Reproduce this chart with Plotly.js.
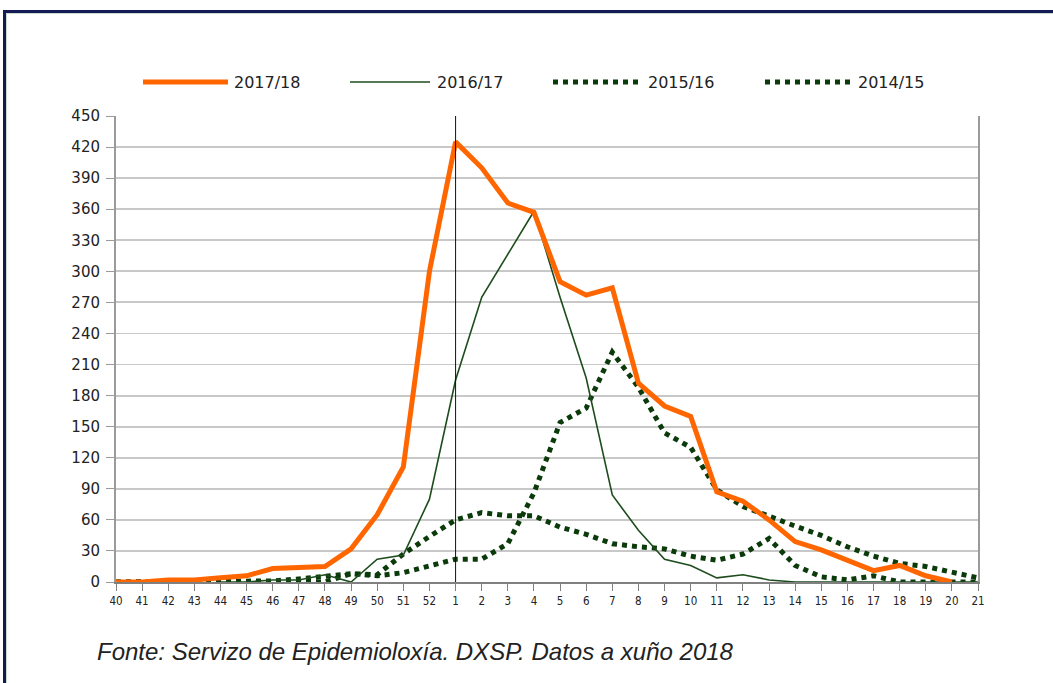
<!DOCTYPE html>
<html>
<head>
<meta charset="utf-8">
<script src="https://cdn.plot.ly/plotly-3.0.1.min.js"></script>
<style>
  html, body { margin: 0; padding: 0; background: #ffffff; }
  #chart { position: absolute; left: 0; top: 0; width: 1053px; height: 683px; }
  #frame { position: absolute; left: 3px; top: 10px; width: 1200px; height: 800px;
           border-left: 3px solid #141a55; border-top: 3px solid #141a55;
           box-shadow: inset 1px 1px 0 0 #c9dcc9; pointer-events: none; z-index: 5; }
</style>
</head>
<body>
<div id="chart"></div>
<div id="frame"></div>
<script>
// ---- data ----
const weeks = ['40','41','42','43','44','45','46','47','48','49','50','51','52',
               '1','2','3','4','5','6','7','8','9','10','11','12','13','14','15','16','17','18','19','20','21'];
const s2017_18 = [0,0,2,2,4,6,13,14,15,32,65,111,300,
                  425,400,366,357,290,277,284,192,170,160,87,78,60,39,31,21,11,16,6,0,null];
const s2016_17 = [null,null,null,null,0,0,2,2,7,0,22,26,80,
                  195,275,316,358,275,197,84,50,22,16,4,7,2,0,0,0,0,0,0,0,0];
const s2015_16 = [0,0,0,0,0,0,0,0,0,8,6,9,15,
                  22,22,37,86,154,168,222,188,144,130,89,73,63,54,45,34,25,18,15,10,4];
const s2014_15 = [0,0,0,0,0,0,1,3,6,8,7,27,44,
                  60,67,64,64,53,46,37,34,32,25,21,27,42,16,5,2,6,0,0,0,0];
const seriesNames = ['2017/18','2016/17','2015/16','2014/15'];
const yTicks = [0,30,60,90,120,150,180,210,240,270,300,330,360,390,420,450];
const markerWeek = '1';
const sourceText = 'Fonte: Servizo de Epidemioloxía. DXSP. Datos a xuño 2018';

// ---- styles ----
const colOrange = '#ff6600';
const colGreen = '#1d4d1d';
const colDot = '#0b3a0b';

const traces = [
  {x: weeks, y: s2015_16, name: seriesNames[2], type: 'scatter', mode: 'lines',
   line: {color: colDot, width: 5, dash: 'dot'}, showlegend: false},
  {x: weeks, y: s2014_15, name: seriesNames[3], type: 'scatter', mode: 'lines',
   line: {color: colDot, width: 5, dash: 'dot'}, showlegend: false},
  {x: weeks, y: s2016_17, name: seriesNames[1], type: 'scatter', mode: 'lines',
   line: {color: colGreen, width: 1.6}, showlegend: false},
  {x: weeks, y: s2017_18, name: seriesNames[0], type: 'scatter', mode: 'lines',
   line: {color: colOrange, width: 5}, showlegend: false}
];

// plot area in pixels
const L = 116, R = 978, T = 116, B = 582;
const px = v => (v - L) / (R - L);
const py = v => (B - v) / (B - T);

const legendY = 82;
const legendItems = [
  {x0: 143, x1: 228, tx: 232, color: colOrange, width: 5, dash: 'solid', label: seriesNames[0]},
  {x0: 350, x1: 430, tx: 435, color: colGreen, width: 1.6, dash: 'solid', label: seriesNames[1]},
  {x0: 553, x1: 640, tx: 646, color: colDot, width: 5, dash: 'dot', label: seriesNames[2]},
  {x0: 765, x1: 850, tx: 856, color: colDot, width: 5, dash: 'dot', label: seriesNames[3]}
];

const markerIdx = weeks.indexOf(markerWeek);
const shapes = [
  {type: 'line', xref: 'x', yref: 'y', x0: markerIdx, x1: markerIdx, y0: 0, y1: 450,
   line: {color: '#111111', width: 1}, layer: 'above'}
];
const annotations = [];
legendItems.forEach(it => {
  shapes.push({type: 'line', xref: 'paper', yref: 'paper', x0: px(it.x0), x1: px(it.x1),
               y0: py(legendY), y1: py(legendY), line: {color: it.color, width: it.width, dash: it.dash}});
  annotations.push({xref: 'paper', yref: 'paper', x: px(it.tx), y: py(legendY),
                    xanchor: 'left', yanchor: 'middle', showarrow: false, text: it.label,
                    font: {family: 'DejaVu Sans', size: 16, color: '#222222'}});
});
annotations.push({xref: 'paper', yref: 'paper', x: px(95), y: py(651), xanchor: 'left', yanchor: 'middle',
                  showarrow: false, text: '<i>' + sourceText + '</i>',
                  font: {family: 'Liberation Sans', size: 24, color: '#222222'}});

const layout = {
  width: 1053, height: 683,
  margin: {l: L, r: 1053 - R, t: T, b: 683 - B, pad: 0},
  paper_bgcolor: '#ffffff', plot_bgcolor: '#ffffff',
  showlegend: false,
  xaxis: {
    type: 'category', range: [0, weeks.length - 1], fixedrange: true,
    showgrid: false, zeroline: false,
    showline: true, linecolor: '#808080', linewidth: 2,
    ticks: 'outside', ticklen: 7, tickwidth: 1, tickcolor: '#808080',
    tickfont: {family: 'DejaVu Sans Condensed', size: 11.5, color: '#222222'},
    tickangle: 0
  },
  yaxis: {
    range: [0, 450], tickvals: yTicks, ticktext: yTicks.map(String), fixedrange: true,
    showgrid: true, gridcolor: '#c8c8c8', gridwidth: 1.8, zeroline: false,
    showline: true, mirror: true, linecolor: '#9a9a9a', linewidth: 2,
    ticks: 'outside', ticklen: 8, tickwidth: 1, tickcolor: '#9a9a9a',
    ticklabelstandoff: 3,
    tickfont: {family: 'DejaVu Sans', size: 15, color: '#222222'}
  },
  shapes: shapes,
  annotations: annotations
};

Plotly.newPlot('chart', traces, layout, {displayModeBar: false, staticPlot: true});
</script>
</body>
</html>
